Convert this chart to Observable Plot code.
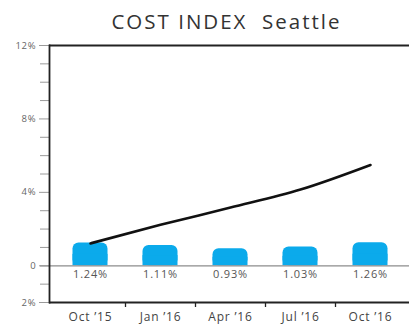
<!DOCTYPE html>
<html><head><meta charset="utf-8">
<script src="https://cdn.jsdelivr.net/npm/d3@7"></script>
<script src="https://cdn.jsdelivr.net/npm/@observablehq/plot@0.6"></script>
<style>
html,body{margin:0;padding:0;background:#fff;}
body{width:409px;height:329px;overflow:hidden;font-family:"Open Sans",Lato,sans-serif;}
#title{box-sizing:border-box;height:36px;width:409px;padding:8px 0 0 44px;text-align:center;font-size:20.5px;font-weight:400;letter-spacing:2px;line-height:26px;color:#333;white-space:pre;}
#chart svg{display:block;}
#chart svg text{letter-spacing:0.8px;}
</style></head><body>
<div id="title">COST INDEX  Seattle</div>
<div id="chart"></div>
<script>
const quarters = ["Oct ’15", "Jan ’16", "Apr ’16", "Jul ’16", "Oct ’16"];
const quarterlyChange = [1.24, 1.11, 0.93, 1.03, 1.26];
const cumulativeIndex = [1.22, 2.23, 3.17, 4.15, 5.49];
const yMajorTicks = [12, 8, 4, 0, -2];
const yMajorLabels = ["12%", "8%", "4%", "0", "2%"];
const yMinorTicks = [11, 10, 9, 7, 6, 5, 3, 2, 1, -1];

const rows = quarters.map((q, i) => ({q, v: quarterlyChange[i], c: cumulativeIndex[i]}));
const labelOf = new Map(yMajorTicks.map((t, i) => [t, yMajorLabels[i]]));
const barColor = "#0BAAEB";

const chart = Plot.plot({
  width: 409,
  height: 293,
  marginTop: 9,
  marginBottom: 27,
  marginLeft: 49,
  marginRight: 0,
  style: {fontFamily: "'Open Sans', Lato, sans-serif", fontWeight: 400, background: "white", overflow: "visible"},
  x: {type: "band", domain: quarters, range: [55, 405], padding: 0},
  y: {domain: [-2, 12]},
  marks: [
    Plot.barY(rows, {x: "q", y: "v", fill: barColor, rx: 6, insetLeft: 17.5, insetRight: 17.5}),
    Plot.barY(rows, {x: "q", y1: 0, y2: d => d.v / 2, fill: barColor, insetLeft: 17.5, insetRight: 17.5}),
    Plot.ruleY([0], {stroke: "#8c8c8c", strokeWidth: 1.3, insetLeft: -9}),
    Plot.text(rows, {x: "q", y: 0, text: d => d.v.toFixed(2) + "%", dy: 9, fontSize: 11, fill: "#555"}),
    Plot.line(rows, {x: "q", y: "c", curve: "monotone-x", stroke: "#111", strokeWidth: 2.6}),
    Plot.axisY({ticks: yMinorTicks, tickSize: 9, tickFormat: () => "", stroke: "#9a9a9a"}),
    Plot.axisY({ticks: yMajorTicks, tickSize: 10, tickPadding: 3, tickFormat: d => labelOf.get(d), stroke: "#9a9a9a", fontSize: 9.5, fill: "#666"}),
    Plot.axisX({tickSize: 0, tickPadding: 10, fontSize: 12, fill: "#444", label: null}),
    Plot.ruleX(quarters.slice(0, -1), {x: d => d, dx: 35, y1: -2, y2: -2, insetBottom: -5, stroke: "#222", strokeWidth: 1.3}),
    Plot.ruleY([12, -2], {stroke: "#222", strokeWidth: 1.8}),
    Plot.frame({anchor: "left", stroke: "#222", strokeWidth: 1.8})
  ]
});
document.getElementById("chart").appendChild(chart);
</script>
</body></html>
